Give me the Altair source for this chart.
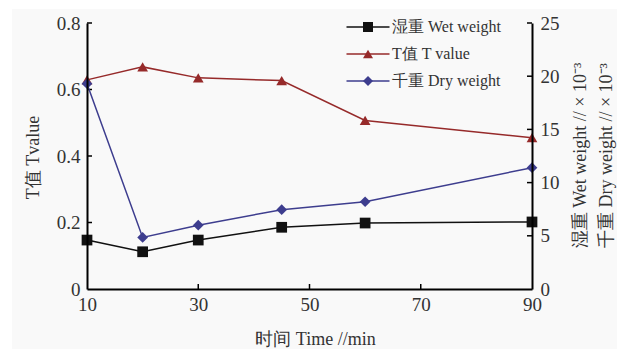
import altair as alt
import pandas as pd

# Sampling times (min)
times = [10, 20, 30, 45, 60, 90]
# T value (left axis)
t_value = [0.629, 0.668, 0.635, 0.627, 0.507, 0.455]
# Wet and dry weight, x 10^-3 (right axis)
wet_weight = [4.6, 3.5, 4.6, 5.8, 6.2, 6.3]
dry_weight = [19.3, 4.85, 6.0, 7.45, 8.2, 11.4]

series_keys = ["wet", "t", "dry"]
series_names = ["湿重 Wet weight", "T值 T value", "千重 Dry weight"]
series_colors = ["#111111", "#962a2a", "#3d3d8e"]
series_shapes = ["square", "triangle-up", "diamond"]

x_tick_values = [10, 30, 50, 70, 90]
left_tick_values = [0, 0.2, 0.4, 0.6, 0.8]
right_tick_values = [0, 5, 10, 15, 20, 25]

W, H = 445, 266
FONT = "Liberation Serif"
TEXT = "#333333"
MARKER_SIZE = 115


def series_frame(i, values):
    # "key" drives the line strokes, "series" the markers and legend labels
    return pd.DataFrame({"time": times, "key": series_keys[i],
                         "series": series_names[i], "value": values})


df_t = series_frame(1, t_value)
df_w = pd.concat([series_frame(0, wet_weight), series_frame(2, dry_weight)])

x_enc = alt.X(
    "time:Q",
    scale=alt.Scale(domain=[10, 90], nice=False, zero=False),
    axis=alt.Axis(
        values=x_tick_values, format="d", ticks=False, grid=False, zindex=2,
        labelFlush=False, domainColor="black", domainWidth=2, labelPadding=6,
        title="时间 Time //min", titleX=228, titleY=50,
        titleBaseline="middle", titleAlign="center",
    ),
)

y_t = alt.Y(
    "value:Q",
    scale=alt.Scale(domain=[0, 0.8], nice=False),
    axis=alt.Axis(
        orient="left", values=left_tick_values, ticks=False, grid=False, zindex=2,
        labelExpr="datum.value == 0 ? '0' : format(datum.value, '.1f')",
        domainColor="black", domainWidth=2, labelPadding=7,
        title="T值 Tvalue", titleAngle=270, titleX=-54, titleY=134,
        titleBaseline="middle", titleAlign="center",
    ),
)

y_w = alt.Y(
    "value:Q",
    scale=alt.Scale(domain=[0, 25], nice=False),
    axis=alt.Axis(
        orient="right", values=right_tick_values, ticks=False, grid=False, zindex=2,
        domainColor="black", domainWidth=2, labelPadding=8,
        title=["湿重 Wet weight // × 10⁻³", "千重 Dry weight // × 10⁻³"],
        titleAngle=270, titleX=48, titleY=132, titleLineHeight=26,
        titleBaseline="middle", titleAlign="center",
    ),
)

# Legend: short line strokes overlaid with marker symbols and labels
stroke_legend = alt.Legend(
    orient="none", legendX=273, legendY=-4, title=None, padding=0,
    symbolType="M-4.3,0H4.3", symbolSize=100, symbolStrokeWidth=1.5,
    labelExpr="' '", labelOffset=0, labelFontSize=16, rowPadding=11,
)
marker_legend = alt.Legend(
    orient="none", legendX=273, legendY=-4, title=None, padding=0,
    symbolSize=100, labelFontSize=16, labelOffset=16, rowPadding=11,
    labelColor=TEXT,
)

stroke_enc = alt.Stroke("key:N", scale=alt.Scale(domain=series_keys, range=series_colors),
                        legend=stroke_legend)
fill_enc = alt.Fill("series:N", scale=alt.Scale(domain=series_names, range=series_colors),
                    legend=marker_legend)
shape_enc = alt.Shape("series:N", scale=alt.Scale(domain=series_names, range=series_shapes),
                      legend=marker_legend)

# T value on the left scale, with inward ticks
t_line = alt.Chart(df_t).mark_line(strokeWidth=1.5).encode(x=x_enc, y=y_t, stroke=stroke_enc)
t_pts = alt.Chart(df_t).mark_point(filled=True, opacity=1, size=MARKER_SIZE).encode(
    x=x_enc, y=y_t, fill=fill_enc, shape=shape_enc)
t_ticks = alt.Chart(pd.DataFrame({"value": left_tick_values[1:]})).mark_rule(
    color="black", strokeWidth=1.5).encode(y=y_t, x=alt.value(0), x2=alt.value(5))
t_group = alt.layer(t_line, t_pts, t_ticks)

# Weights on the right scale, with inward ticks
w_line = alt.Chart(df_w).mark_line(strokeWidth=1.5).encode(x=x_enc, y=y_w, stroke=stroke_enc)
w_pts = alt.Chart(df_w).mark_point(filled=True, opacity=1, size=MARKER_SIZE).encode(
    x=x_enc, y=y_w, fill=fill_enc, shape=shape_enc)
w_ticks = alt.Chart(pd.DataFrame({"value": right_tick_values[1:]})).mark_rule(
    color="black", strokeWidth=1.5).encode(y=y_w, x=alt.value(W - 5), x2=alt.value(W))
w_group = alt.layer(w_line, w_pts, w_ticks)

# Inward ticks on the time axis
x_ticks = alt.Chart(pd.DataFrame({"time": x_tick_values[1:-1]})).mark_rule(
    color="black", strokeWidth=1.5).encode(x=x_enc, y=alt.value(H - 5), y2=alt.value(H))

# Pale panel behind the figure
bg = alt.Chart(pd.DataFrame({"k": [0]})).mark_rect(color="#f9f9f9").encode(
    x=alt.value(-75), x2=alt.value(530), y=alt.value(-14), y2=alt.value(340))

chart = (
    alt.layer(bg, t_group, w_group, x_ticks)
    .resolve_scale(y="independent")
    .properties(
        width=W, height=H,
        padding={"left": 87, "top": 23, "right": 93, "bottom": 60},
        autosize=alt.AutoSizeParams(type="none"),
        background="white",
    )
    .configure_view(stroke=None)
    .configure_axis(
        labelFont=FONT, titleFont=FONT, labelFontSize=19, titleFontSize=18,
        labelColor=TEXT, titleColor=TEXT, titleFontWeight="normal",
    )
    .configure_legend(labelFont=FONT, labelColor=TEXT)
)

chart.save("out.html", embed_options={"renderer": "svg", "actions": False})
